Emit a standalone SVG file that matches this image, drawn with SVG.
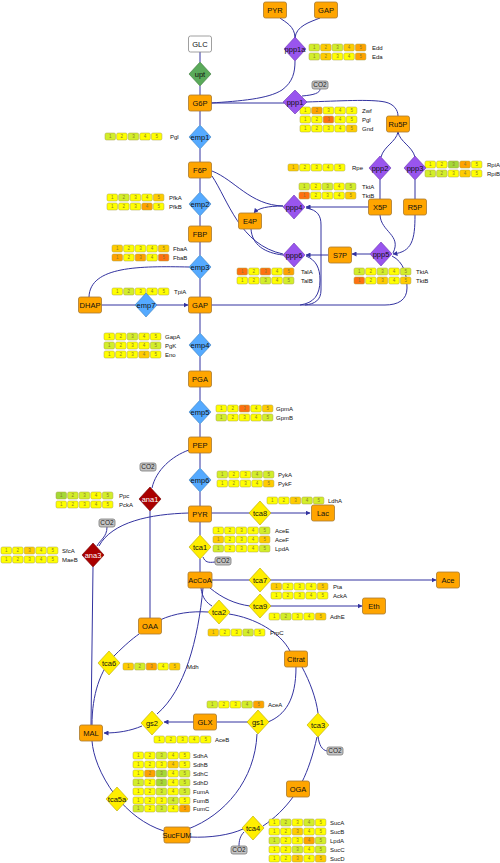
<svg xmlns="http://www.w3.org/2000/svg" xmlns:xlink="http://www.w3.org/1999/xlink" width="500" height="863" viewBox="0 0 500 863">
<style>
text{font-family:"Liberation Sans",Arial,sans-serif}
.nd rect{fill:#ffa500;stroke:#a87a30;stroke-width:0.8}
.nd text,.dm text{font-size:7.5px;text-anchor:middle;fill:#111}
.co rect{fill:#c4c4c4;stroke:#7a7a7a;stroke-width:0.8}
.co text{font-size:6.5px;text-anchor:middle;fill:#222}
.emp polygon{fill:#55aaff;stroke:#3a7fc0;stroke-width:0.6}
.ppp polygon{fill:#9955ee;stroke:#6a35b0;stroke-width:0.6}
.tca polygon{fill:#ffee00;stroke:#b8a800;stroke-width:0.6}
.ana polygon{fill:#aa0000;stroke:#700000;stroke-width:0.6}
.ana text{fill:#fff}
.upt polygon{fill:#5aaa5a;stroke:#3a7a3a;stroke-width:0.6}
#edges path{fill:none;stroke:#3333a0;stroke-width:1}
.lb{font-size:6px;fill:#111}
.num text{font-size:4.5px;text-anchor:middle;fill:#8a7a30}
</style>
<defs>
<marker id="a" viewBox="0 0 10 10" refX="9" refY="5" markerWidth="5" markerHeight="5" markerUnits="userSpaceOnUse" orient="auto"><path d="M0,0L10,5L0,10z" fill="#3333a0"/></marker>
<rect id="Y" width="10.5" height="7" rx="1.5" fill="#ffff00" stroke="#a8a040" stroke-width="0.5"/>
<rect id="L" width="10.5" height="7" rx="1.5" fill="#d2ee2a" stroke="#a8a040" stroke-width="0.5"/>
<rect id="G" width="10.5" height="7" rx="1.5" fill="#a4d836" stroke="#a8a040" stroke-width="0.5"/>
<rect id="O" width="10.5" height="7" rx="1.5" fill="#ffcc00" stroke="#a8a040" stroke-width="0.5"/>
<rect id="A" width="10.5" height="7" rx="1.5" fill="#ffa200" stroke="#a8a040" stroke-width="0.5"/>
<rect id="R" width="10.5" height="7" rx="1.5" fill="#ff7010" stroke="#a8a040" stroke-width="0.5"/>
<g id="n" class="num"><text x="5.25" y="5.2">1</text><text x="16.85" y="5.2">2</text><text x="28.45" y="5.2">3</text><text x="40.05" y="5.2">4</text><text x="51.65" y="5.2">5</text></g>
</defs>
<rect width="500" height="863" fill="#fff"/>

<g id="edges">
<path d="M200,52V62"/>
<path d="M200,86V95"/>
<path d="M200,111V125"/>
<path d="M200,149V162"/>
<path d="M200,178V192"/>
<path d="M200,216V226"/>
<path d="M200,242V255"/>
<path d="M200,279V297"/>
<path d="M189,267C140,266 90,266 89,297"/>
<path d="M101,305H188" marker-end="url(#a)"/>
<path d="M200,313V333"/>
<path d="M200,357V371"/>
<path d="M200,387V400"/>
<path d="M200,424V437"/>
<path d="M200,453V468"/>
<path d="M200,492V506"/>
<path d="M211,103H284"/>
<path d="M211,103C240,101 268,99 282,90C293,82 295,72 295,61"/>
<path d="M295,38C295,26 285,22 280,18"/>
<path d="M295,38C296,26 310,22 320,18"/>
<path d="M302,96C314,95 320,93 320,89"/>
<path d="M306,102C340,101 370,99 385,102C394,104 398,110 398,116"/>
<path d="M398,132C396,142 384,146 381,157"/>
<path d="M398,132C400,142 412,146 415,157"/>
<path d="M380,180V199"/>
<path d="M415,180V199"/>
<path d="M369,207H306" marker-end="url(#a)"/>
<path d="M283,206C268,206 258,208 254,213" marker-end="url(#a)"/>
<path d="M212,171C235,180 250,205 283,206"/>
<path d="M212,176C228,200 240,245 283,254"/>
<path d="M251,229C252,245 265,253 283,255"/>
<path d="M328,255H306" marker-end="url(#a)"/>
<path d="M370,254H352" marker-end="url(#a)"/>
<path d="M380,215C381,232 402,235 393,253"/>
<path d="M415,215C415,240 412,252 393,254" marker-end="url(#a)"/>
<path d="M392,256C404,262 407,275 407,288C407,300 398,305 385,305H211"/>
<path d="M306,208C318,210 321,216 321,225V290C321,300 315,304 305,305"/>
<path d="M306,256C316,260 320,268 320,280C320,295 314,303 300,305"/>
<path d="M189,450C172,456 156,470 152,488"/>
<path d="M150,511V618"/>
<path d="M189,513C150,514 112,522 99,546"/>
<path d="M107,527C107,537 100,540 97,546"/>
<path d="M93,567L91,725"/>
<path d="M211,513H310" marker-end="url(#a)"/>
<path d="M200,522V535"/>
<path d="M200,559V572"/>
<path d="M203,557C205,562 208,563 215,562"/>
<path d="M212,580H436" marker-end="url(#a)"/>
<path d="M210,588C222,598 235,604 250,606H362" marker-end="url(#a)"/>
<path d="M201,588C202,598 207,603 212,606"/>
<path d="M160,620C175,613 192,611 208,612"/>
<path d="M229,614C255,618 280,632 290,651"/>
<path d="M203,588C198,640 185,690 157,714"/>
<path d="M302,667C310,682 316,698 318,713"/>
<path d="M318,736C319,745 322,750 327,751"/>
<path d="M317,737C313,755 308,770 302,782"/>
<path d="M293,797C285,808 275,818 263,826"/>
<path d="M244,832C240,836 239,841 239,846"/>
<path d="M243,829C230,835 210,838 190,837"/>
<path d="M296,667C296,700 285,715 268,722"/>
<path d="M257,734C255,780 225,815 188,829"/>
<path d="M248,722H217"/>
<path d="M194,722H164" marker-end="url(#a)"/>
<path d="M142,726C130,731 118,733 104,733" marker-end="url(#a)"/>
<path d="M164,831C145,825 128,812 115,795C100,775 93,755 92,741"/>
<path d="M92,725C92,695 100,670 115,655C125,645 132,639 139,634"/>
</g>

<g id="bars">
<g transform="translate(105,133)"><use href="#L"/><use href="#Y" x="11.6"/><use href="#L" x="23.2"/><use href="#Y" x="34.8"/><use href="#Y" x="46.4"/><use href="#n"/></g><text class="lb" x="170" y="139">Pgl</text>
<g transform="translate(107,194)"><use href="#Y"/><use href="#L" x="11.6"/><use href="#Y" x="23.2"/><use href="#Y" x="34.8"/><use href="#O" x="46.4"/><use href="#n"/></g><text class="lb" x="169" y="200">PfkA</text>
<g transform="translate(107,203)"><use href="#Y"/><use href="#Y" x="11.6"/><use href="#Y" x="23.2"/><use href="#A" x="34.8"/><use href="#Y" x="46.4"/><use href="#n"/></g><text class="lb" x="169" y="209">PfkB</text>
<g transform="translate(309,44)"><use href="#L"/><use href="#O" x="11.6"/><use href="#L" x="23.2"/><use href="#O" x="34.8"/><use href="#A" x="46.4"/><use href="#n"/></g><text class="lb" x="372" y="50">Edd</text>
<g transform="translate(309,53)"><use href="#L"/><use href="#O" x="11.6"/><use href="#Y" x="23.2"/><use href="#Y" x="34.8"/><use href="#A" x="46.4"/><use href="#n"/></g><text class="lb" x="372" y="59">Eda</text>
<g transform="translate(300,107)"><use href="#Y"/><use href="#A" x="11.6"/><use href="#Y" x="23.2"/><use href="#Y" x="34.8"/><use href="#Y" x="46.4"/><use href="#n"/></g><text class="lb" x="362" y="113">Zwf</text>
<g transform="translate(300,116)"><use href="#Y"/><use href="#Y" x="11.6"/><use href="#R" x="23.2"/><use href="#Y" x="34.8"/><use href="#Y" x="46.4"/><use href="#n"/></g><text class="lb" x="362" y="122">Pgl</text>
<g transform="translate(300,125)"><use href="#Y"/><use href="#Y" x="11.6"/><use href="#Y" x="23.2"/><use href="#Y" x="34.8"/><use href="#O" x="46.4"/><use href="#n"/></g><text class="lb" x="362" y="131">Gnd</text>
<g transform="translate(288,164)"><use href="#O"/><use href="#Y" x="11.6"/><use href="#Y" x="23.2"/><use href="#Y" x="34.8"/><use href="#Y" x="46.4"/><use href="#n"/></g><text class="lb" x="352" y="170">Rpe</text>
<g transform="translate(425,161)"><use href="#Y"/><use href="#Y" x="11.6"/><use href="#G" x="23.2"/><use href="#A" x="34.8"/><use href="#Y" x="46.4"/><use href="#n"/></g><text class="lb" x="487" y="167">RpiA</text>
<g transform="translate(425,170)"><use href="#L"/><use href="#L" x="11.6"/><use href="#Y" x="23.2"/><use href="#O" x="34.8"/><use href="#Y" x="46.4"/><use href="#n"/></g><text class="lb" x="487" y="176">RpiB</text>
<g transform="translate(299,183)"><use href="#L"/><use href="#Y" x="11.6"/><use href="#L" x="23.2"/><use href="#Y" x="34.8"/><use href="#L" x="46.4"/><use href="#n"/></g><text class="lb" x="362" y="189">TktA</text>
<g transform="translate(299,192)"><use href="#R"/><use href="#Y" x="11.6"/><use href="#Y" x="23.2"/><use href="#Y" x="34.8"/><use href="#O" x="46.4"/><use href="#n"/></g><text class="lb" x="362" y="198">TktB</text>
<g transform="translate(112,245)"><use href="#O"/><use href="#Y" x="11.6"/><use href="#Y" x="23.2"/><use href="#Y" x="34.8"/><use href="#O" x="46.4"/><use href="#n"/></g><text class="lb" x="173" y="251">FbaA</text>
<g transform="translate(112,254)"><use href="#A"/><use href="#Y" x="11.6"/><use href="#A" x="23.2"/><use href="#Y" x="34.8"/><use href="#R" x="46.4"/><use href="#n"/></g><text class="lb" x="173" y="260">FbaB</text>
<g transform="translate(237,268)"><use href="#R"/><use href="#Y" x="11.6"/><use href="#R" x="23.2"/><use href="#Y" x="34.8"/><use href="#A" x="46.4"/><use href="#n"/></g><text class="lb" x="301" y="274">TalA</text>
<g transform="translate(237,277)"><use href="#Y"/><use href="#Y" x="11.6"/><use href="#L" x="23.2"/><use href="#Y" x="34.8"/><use href="#L" x="46.4"/><use href="#n"/></g><text class="lb" x="301" y="283">TalB</text>
<g transform="translate(354,268)"><use href="#L"/><use href="#Y" x="11.6"/><use href="#L" x="23.2"/><use href="#Y" x="34.8"/><use href="#L" x="46.4"/><use href="#n"/></g><text class="lb" x="416" y="274">TktA</text>
<g transform="translate(354,277)"><use href="#R"/><use href="#Y" x="11.6"/><use href="#O" x="23.2"/><use href="#Y" x="34.8"/><use href="#O" x="46.4"/><use href="#n"/></g><text class="lb" x="416" y="283">TktB</text>
<g transform="translate(112,288)"><use href="#Y"/><use href="#L" x="11.6"/><use href="#Y" x="23.2"/><use href="#Y" x="34.8"/><use href="#Y" x="46.4"/><use href="#n"/></g><text class="lb" x="174" y="294">TpiA</text>
<g transform="translate(104,333)"><use href="#Y"/><use href="#Y" x="11.6"/><use href="#L" x="23.2"/><use href="#Y" x="34.8"/><use href="#Y" x="46.4"/><use href="#n"/></g><text class="lb" x="165" y="339">GapA</text>
<g transform="translate(104,342)"><use href="#L"/><use href="#Y" x="11.6"/><use href="#Y" x="23.2"/><use href="#Y" x="34.8"/><use href="#L" x="46.4"/><use href="#n"/></g><text class="lb" x="165" y="348">PgK</text>
<g transform="translate(104,351)"><use href="#Y"/><use href="#Y" x="11.6"/><use href="#Y" x="23.2"/><use href="#O" x="34.8"/><use href="#Y" x="46.4"/><use href="#n"/></g><text class="lb" x="165" y="357">Eno</text>
<g transform="translate(216,405)"><use href="#Y"/><use href="#Y" x="11.6"/><use href="#R" x="23.2"/><use href="#Y" x="34.8"/><use href="#O" x="46.4"/><use href="#n"/></g><text class="lb" x="276" y="411">GpmA</text>
<g transform="translate(216,414)"><use href="#L"/><use href="#Y" x="11.6"/><use href="#Y" x="23.2"/><use href="#Y" x="34.8"/><use href="#L" x="46.4"/><use href="#n"/></g><text class="lb" x="276" y="420">GpmB</text>
<g transform="translate(217,471)"><use href="#L"/><use href="#Y" x="11.6"/><use href="#Y" x="23.2"/><use href="#L" x="34.8"/><use href="#L" x="46.4"/><use href="#n"/></g><text class="lb" x="278" y="477">PykA</text>
<g transform="translate(217,480)"><use href="#Y"/><use href="#Y" x="11.6"/><use href="#Y" x="23.2"/><use href="#Y" x="34.8"/><use href="#O" x="46.4"/><use href="#n"/></g><text class="lb" x="278" y="486">PykF</text>
<g transform="translate(56,492)"><use href="#G"/><use href="#L" x="11.6"/><use href="#L" x="23.2"/><use href="#Y" x="34.8"/><use href="#L" x="46.4"/><use href="#n"/></g><text class="lb" x="119" y="498">Ppc</text>
<g transform="translate(56,501)"><use href="#Y"/><use href="#Y" x="11.6"/><use href="#Y" x="23.2"/><use href="#Y" x="34.8"/><use href="#Y" x="46.4"/><use href="#n"/></g><text class="lb" x="119" y="507">PckA</text>
<g transform="translate(1,547)"><use href="#Y"/><use href="#Y" x="11.6"/><use href="#O" x="23.2"/><use href="#Y" x="34.8"/><use href="#Y" x="46.4"/><use href="#n"/></g><text class="lb" x="62" y="553">SfcA</text>
<g transform="translate(1,556)"><use href="#Y"/><use href="#Y" x="11.6"/><use href="#Y" x="23.2"/><use href="#Y" x="34.8"/><use href="#Y" x="46.4"/><use href="#n"/></g><text class="lb" x="62" y="562">MaeB</text>
<g transform="translate(267,497)"><use href="#Y"/><use href="#Y" x="11.6"/><use href="#O" x="23.2"/><use href="#L" x="34.8"/><use href="#L" x="46.4"/><use href="#n"/></g><text class="lb" x="328" y="503">LdhA</text>
<g transform="translate(213,527)"><use href="#Y"/><use href="#Y" x="11.6"/><use href="#Y" x="23.2"/><use href="#Y" x="34.8"/><use href="#L" x="46.4"/><use href="#n"/></g><text class="lb" x="275" y="533">AceE</text>
<g transform="translate(213,536)"><use href="#O"/><use href="#Y" x="11.6"/><use href="#Y" x="23.2"/><use href="#Y" x="34.8"/><use href="#O" x="46.4"/><use href="#n"/></g><text class="lb" x="275" y="542">AceF</text>
<g transform="translate(213,545)"><use href="#L"/><use href="#Y" x="11.6"/><use href="#Y" x="23.2"/><use href="#Y" x="34.8"/><use href="#L" x="46.4"/><use href="#n"/></g><text class="lb" x="275" y="551">LpdA</text>
<g transform="translate(271,583)"><use href="#O"/><use href="#Y" x="11.6"/><use href="#Y" x="23.2"/><use href="#Y" x="34.8"/><use href="#O" x="46.4"/><use href="#n"/></g><text class="lb" x="333" y="589">Pta</text>
<g transform="translate(271,592)"><use href="#Y"/><use href="#Y" x="11.6"/><use href="#Y" x="23.2"/><use href="#Y" x="34.8"/><use href="#Y" x="46.4"/><use href="#n"/></g><text class="lb" x="333" y="598">AckA</text>
<g transform="translate(269,613)"><use href="#Y"/><use href="#L" x="11.6"/><use href="#Y" x="23.2"/><use href="#Y" x="34.8"/><use href="#O" x="46.4"/><use href="#n"/></g><text class="lb" x="330" y="619">AdhE</text>
<g transform="translate(208,629)"><use href="#O"/><use href="#Y" x="11.6"/><use href="#Y" x="23.2"/><use href="#L" x="34.8"/><use href="#Y" x="46.4"/><use href="#n"/></g><text class="lb" x="270" y="635">PrpC</text>
<g transform="translate(123,663)"><use href="#O"/><use href="#L" x="11.6"/><use href="#A" x="23.2"/><use href="#Y" x="34.8"/><use href="#O" x="46.4"/><use href="#n"/></g><text class="lb" x="187" y="669">Mdh</text>
<g transform="translate(207,701)"><use href="#L"/><use href="#Y" x="11.6"/><use href="#Y" x="23.2"/><use href="#L" x="34.8"/><use href="#A" x="46.4"/><use href="#n"/></g><text class="lb" x="268" y="707">AceA</text>
<g transform="translate(154,736)"><use href="#Y"/><use href="#Y" x="11.6"/><use href="#Y" x="23.2"/><use href="#Y" x="34.8"/><use href="#Y" x="46.4"/><use href="#n"/></g><text class="lb" x="215" y="742">AceB</text>
<g transform="translate(133,752)"><use href="#Y"/><use href="#Y" x="11.6"/><use href="#L" x="23.2"/><use href="#Y" x="34.8"/><use href="#Y" x="46.4"/><use href="#n"/></g><text class="lb" x="193" y="758">SdhA</text>
<g transform="translate(133,761)"><use href="#Y"/><use href="#Y" x="11.6"/><use href="#Y" x="23.2"/><use href="#O" x="34.8"/><use href="#Y" x="46.4"/><use href="#n"/></g><text class="lb" x="193" y="767">SdhB</text>
<g transform="translate(133,770)"><use href="#Y"/><use href="#A" x="11.6"/><use href="#G" x="23.2"/><use href="#Y" x="34.8"/><use href="#L" x="46.4"/><use href="#n"/></g><text class="lb" x="193" y="776">SdhC</text>
<g transform="translate(133,779)"><use href="#L"/><use href="#Y" x="11.6"/><use href="#G" x="23.2"/><use href="#Y" x="34.8"/><use href="#L" x="46.4"/><use href="#n"/></g><text class="lb" x="193" y="785">SdhD</text>
<g transform="translate(133,788)"><use href="#Y"/><use href="#Y" x="11.6"/><use href="#L" x="23.2"/><use href="#Y" x="34.8"/><use href="#L" x="46.4"/><use href="#n"/></g><text class="lb" x="193" y="794">FumA</text>
<g transform="translate(133,797)"><use href="#Y"/><use href="#Y" x="11.6"/><use href="#Y" x="23.2"/><use href="#L" x="34.8"/><use href="#Y" x="46.4"/><use href="#n"/></g><text class="lb" x="193" y="803">FumB</text>
<g transform="translate(133,805)"><use href="#L"/><use href="#Y" x="11.6"/><use href="#L" x="23.2"/><use href="#Y" x="34.8"/><use href="#A" x="46.4"/><use href="#n"/></g><text class="lb" x="193" y="811">FumC</text>
<g transform="translate(269,819)"><use href="#Y"/><use href="#L" x="11.6"/><use href="#Y" x="23.2"/><use href="#L" x="34.8"/><use href="#Y" x="46.4"/><use href="#n"/></g><text class="lb" x="330" y="825">SucA</text>
<g transform="translate(269,828)"><use href="#Y"/><use href="#Y" x="11.6"/><use href="#O" x="23.2"/><use href="#Y" x="34.8"/><use href="#Y" x="46.4"/><use href="#n"/></g><text class="lb" x="330" y="834">SucB</text>
<g transform="translate(269,837)"><use href="#L"/><use href="#Y" x="11.6"/><use href="#Y" x="23.2"/><use href="#A" x="34.8"/><use href="#L" x="46.4"/><use href="#n"/></g><text class="lb" x="330" y="843">LpdA</text>
<g transform="translate(269,846)"><use href="#Y"/><use href="#Y" x="11.6"/><use href="#L" x="23.2"/><use href="#Y" x="34.8"/><use href="#L" x="46.4"/><use href="#n"/></g><text class="lb" x="330" y="852">SucC</text>
<g transform="translate(269,855)"><use href="#Y"/><use href="#Y" x="11.6"/><use href="#O" x="23.2"/><use href="#Y" x="34.8"/><use href="#O" x="46.4"/><use href="#n"/></g><text class="lb" x="330" y="861">SucD</text>
</g>

<g id="GLC" class="nd"><rect x="188.5" y="36" width="23" height="16" rx="2" style="fill:#fff;stroke:#888"/><text x="200" y="46.7">GLC</text></g>
<g id="G6P" class="nd"><rect x="188.5" y="95" width="23" height="16" rx="2"/><text x="200" y="105.7">G6P</text></g>
<g id="F6P" class="nd"><rect x="188.5" y="162" width="23" height="16" rx="2"/><text x="200" y="172.7">F6P</text></g>
<g id="FBP" class="nd"><rect x="188.5" y="226" width="23" height="16" rx="2"/><text x="200" y="236.7">FBP</text></g>
<g id="DHAP" class="nd"><rect x="78.5" y="297" width="23" height="16" rx="2"/><text x="90" y="307.7">DHAP</text></g>
<g id="GAP" class="nd"><rect x="188.5" y="297" width="23" height="16" rx="2"/><text x="200" y="307.7">GAP</text></g>
<g id="PGA" class="nd"><rect x="188.5" y="371" width="23" height="16" rx="2"/><text x="200" y="381.7">PGA</text></g>
<g id="PEP" class="nd"><rect x="188.5" y="437" width="23" height="16" rx="2"/><text x="200" y="447.7">PEP</text></g>
<g id="PYR" class="nd"><rect x="188.5" y="506" width="23" height="16" rx="2"/><text x="200" y="516.7">PYR</text></g>
<g id="AcCoA" class="nd"><rect x="188" y="572" width="24" height="16" rx="2"/><text x="200" y="582.7">AcCoA</text></g>
<g id="OAA" class="nd"><rect x="138.5" y="618" width="23" height="16" rx="2"/><text x="150" y="628.7">OAA</text></g>
<g id="Citrat" class="nd"><rect x="284.5" y="651" width="23" height="16" rx="2"/><text x="296" y="661.7">Citrat</text></g>
<g id="GLX" class="nd"><rect x="193.5" y="714" width="23" height="16" rx="2"/><text x="205" y="724.7">GLX</text></g>
<g id="MAL" class="nd"><rect x="79.5" y="725" width="23" height="16" rx="2"/><text x="91" y="735.7">MAL</text></g>
<g id="OGA" class="nd"><rect x="286.5" y="781" width="23" height="16" rx="2"/><text x="298" y="791.7">OGA</text></g>
<g id="SucFUM" class="nd"><rect x="164" y="827" width="26" height="16" rx="2"/><text x="177" y="837.7">SucFUM</text></g>
<g id="Lac" class="nd"><rect x="311.5" y="505" width="23" height="16" rx="2"/><text x="323" y="515.7">Lac</text></g>
<g id="Ace" class="nd"><rect x="436.5" y="572" width="23" height="16" rx="2"/><text x="448" y="582.7">Ace</text></g>
<g id="Eth" class="nd"><rect x="362.5" y="598" width="23" height="16" rx="2"/><text x="374" y="608.7">Eth</text></g>
<g id="PYR2" class="nd"><rect x="263.5" y="2" width="23" height="16" rx="2"/><text x="275" y="12.7">PYR</text></g>
<g id="GAP2" class="nd"><rect x="314.5" y="2" width="23" height="16" rx="2"/><text x="326" y="12.7">GAP</text></g>
<g id="Ru5P" class="nd"><rect x="386.5" y="116" width="23" height="16" rx="2"/><text x="398" y="126.7">Ru5P</text></g>
<g id="X5P" class="nd"><rect x="368.5" y="199" width="23" height="16" rx="2"/><text x="380" y="209.7">X5P</text></g>
<g id="R5P" class="nd"><rect x="403.5" y="199" width="23" height="16" rx="2"/><text x="415" y="209.7">R5P</text></g>
<g id="E4P" class="nd"><rect x="238.5" y="213" width="23" height="16" rx="2"/><text x="250" y="223.7">E4P</text></g>
<g id="S7P" class="nd"><rect x="328.5" y="247" width="23" height="16" rx="2"/><text x="340" y="257.7">S7P</text></g>

<g id="CO2a" class="co"><rect x="312" y="81" width="16" height="8" rx="2"/><text x="320" y="87.3">CO2</text></g>
<g id="CO2b" class="co"><rect x="140" y="463" width="16" height="8" rx="2"/><text x="148" y="469.3">CO2</text></g>
<g id="CO2c" class="co"><rect x="99" y="519" width="16" height="8" rx="2"/><text x="107" y="525.3">CO2</text></g>
<g id="CO2d" class="co"><rect x="215" y="557" width="16" height="8" rx="2"/><text x="223" y="563.3">CO2</text></g>
<g id="CO2e" class="co"><rect x="327" y="747" width="16" height="8" rx="2"/><text x="335" y="753.3">CO2</text></g>
<g id="CO2f" class="co"><rect x="231" y="846" width="16" height="8" rx="2"/><text x="239" y="852.3">CO2</text></g>

<g id="upt" class="dm upt"><polygon points="200,62 211,74 200,86 189,74"/><text x="200" y="76.7">upt</text></g>
<g id="emp1" class="dm emp"><polygon points="200,125 211,137 200,149 189,137"/><text x="200" y="139.7">emp1</text></g>
<g id="emp2" class="dm emp"><polygon points="200,192 211,204 200,216 189,204"/><text x="200" y="206.7">emp2</text></g>
<g id="emp3" class="dm emp"><polygon points="200,255 211,267 200,279 189,267"/><text x="200" y="269.7">emp3</text></g>
<g id="emp7" class="dm emp"><polygon points="146,293 157,305 146,317 135,305"/><text x="146" y="307.7">emp7</text></g>
<g id="emp4" class="dm emp"><polygon points="200,333 211,345 200,357 189,345"/><text x="200" y="347.7">emp4</text></g>
<g id="emp5" class="dm emp"><polygon points="200,400 211,412 200,424 189,412"/><text x="200" y="414.7">emp5</text></g>
<g id="emp6" class="dm emp"><polygon points="200,468 211,480 200,492 189,480"/><text x="200" y="482.7">emp6</text></g>
<g id="ppp1a" class="dm ppp"><polygon points="295,37 306,49 295,61 284,49"/><text x="295" y="51.7">ppp1a</text></g>
<g id="ppp1" class="dm ppp"><polygon points="295,90 307,102 295,114 283,102"/><text x="295" y="104.7">ppp1</text></g>
<g id="ppp2" class="dm ppp"><polygon points="380,156 391,168 380,180 369,168"/><text x="380" y="170.7">ppp2</text></g>
<g id="ppp3" class="dm ppp"><polygon points="415,156 426,168 415,180 404,168"/><text x="415" y="170.7">ppp3</text></g>
<g id="ppp4" class="dm ppp"><polygon points="294,195 305,207 294,219 283,207"/><text x="294" y="209.7">ppp4</text></g>
<g id="ppp6" class="dm ppp"><polygon points="294,243 305,255 294,267 283,255"/><text x="294" y="257.7">ppp6</text></g>
<g id="ppp5" class="dm ppp"><polygon points="381,242 392,254 381,266 370,254"/><text x="381" y="256.7">ppp5</text></g>
<g id="ana1" class="dm ana"><polygon points="150,487 161,499 150,511 139,499"/><text x="150" y="501.7">ana1</text></g>
<g id="ana3" class="dm ana"><polygon points="93,543 104,555 93,567 82,555"/><text x="93" y="557.7">ana3</text></g>
<g id="tca1" class="dm tca"><polygon points="200,535 211,547 200,559 189,547"/><text x="200" y="549.7">tca1</text></g>
<g id="tca8" class="dm tca"><polygon points="260,501 271,513 260,525 249,513"/><text x="260" y="515.7">tca8</text></g>
<g id="tca7" class="dm tca"><polygon points="260,568 271,580 260,592 249,580"/><text x="260" y="582.7">tca7</text></g>
<g id="tca9" class="dm tca"><polygon points="260,594 271,606 260,618 249,606"/><text x="260" y="608.7">tca9</text></g>
<g id="tca2" class="dm tca"><polygon points="219,600 230,612 219,624 208,612"/><text x="219" y="614.7">tca2</text></g>
<g id="tca3" class="dm tca"><polygon points="318,713 329,725 318,737 307,725"/><text x="318" y="727.7">tca3</text></g>
<g id="tca4" class="dm tca"><polygon points="253,816 264,828 253,840 242,828"/><text x="253" y="830.7">tca4</text></g>
<g id="tca5a" class="dm tca"><polygon points="117,787 128,799 117,811 106,799"/><text x="117" y="801.7">tca5a</text></g>
<g id="tca6" class="dm tca"><polygon points="109,651 120,663 109,675 98,663"/><text x="109" y="665.7">tca6</text></g>
<g id="gs1" class="dm tca"><polygon points="258,710 269,722 258,734 247,722"/><text x="258" y="724.7">gs1</text></g>
<g id="gs2" class="dm tca"><polygon points="152,711 163,723 152,735 141,723"/><text x="152" y="725.7">gs2</text></g>
</svg>
